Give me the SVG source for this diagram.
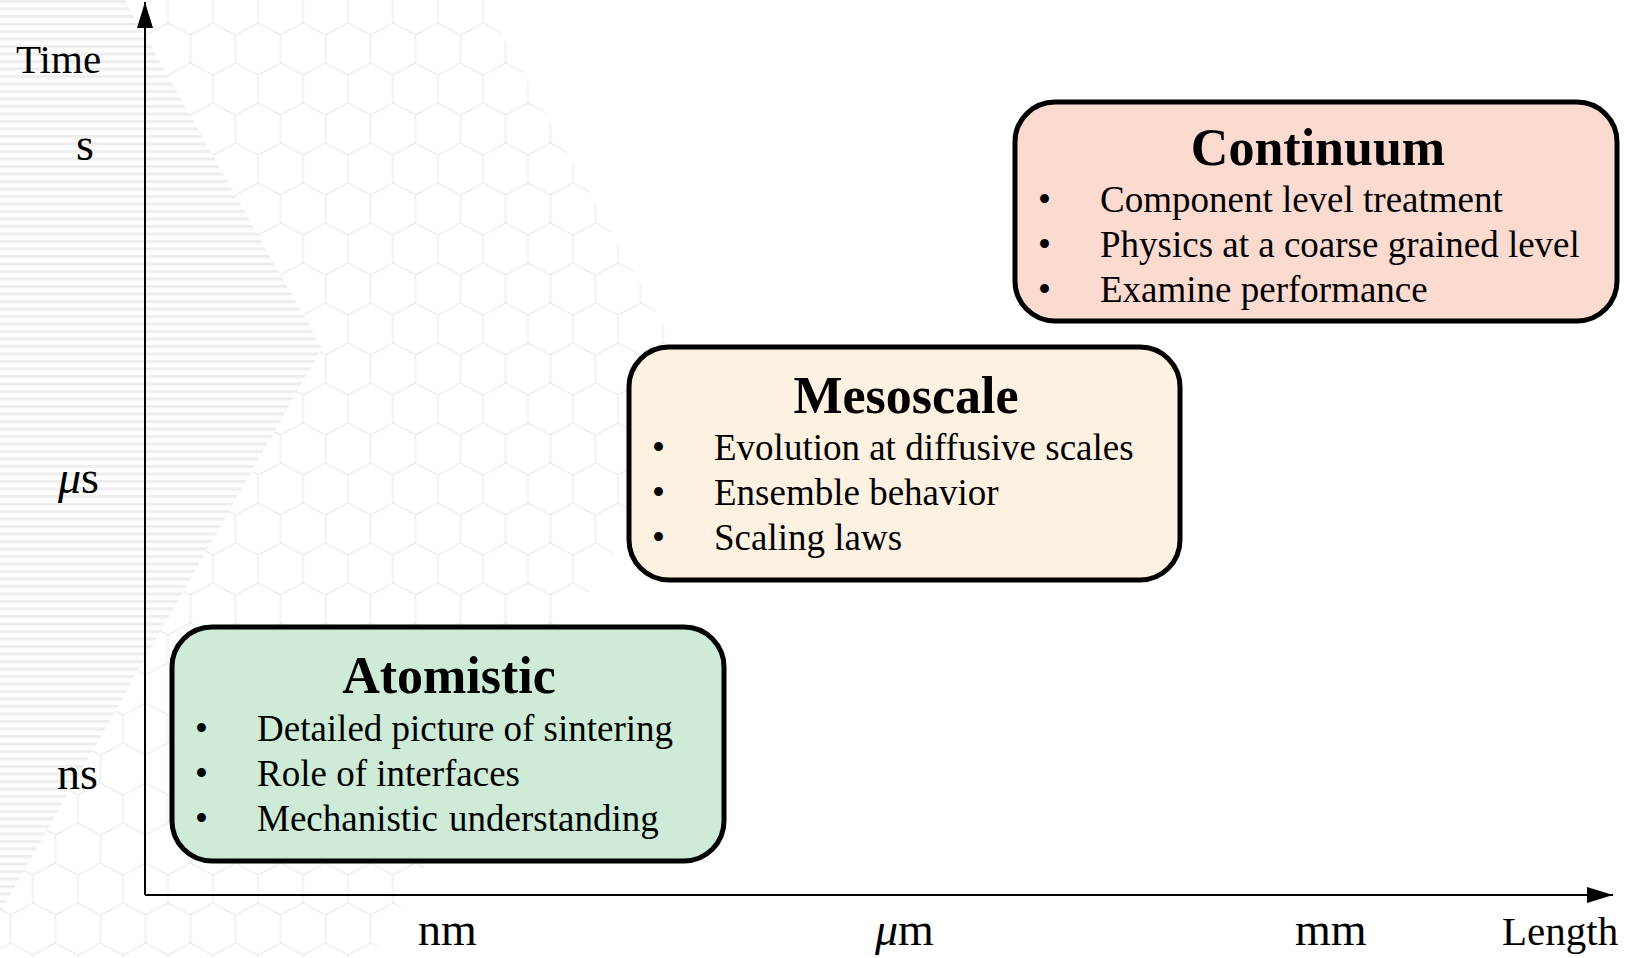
<svg xmlns="http://www.w3.org/2000/svg" width="1638" height="958" viewBox="0 0 1638 958">
  <style>
    .lbl { font-family: "Liberation Serif", "Times New Roman", serif; fill: #000; }
    .axl { font-size: 41px; }
    .unit { font-size: 46px; }
    .title { font-size: 52px; font-weight: bold; text-anchor: middle; }
    .item { font-size: 37px; }
    .box { stroke: #000; stroke-width: 5; }
    .axis { stroke: #000; stroke-width: 2; fill: none; }
  </style>
  <defs>
    <pattern id="hex" patternUnits="userSpaceOnUse" x="10.5" y="9" width="45" height="80">
      <path d="M22.5,0 V14 L0,26 M22.5,14 L45,26 M0,26 V54 M45,26 V54 M0,54 L22.5,66 L45,54 M22.5,66 V80" fill="none" stroke="#efefef" stroke-width="1.6"/>
    </pattern>
    <pattern id="stripes" patternUnits="userSpaceOnUse" x="0" y="0" width="8" height="7.5">
      <rect x="0" y="0" width="8" height="7.5" fill="#fdfdfd"/>
      <rect x="0" y="0" width="8" height="3" fill="#eeeeee"/>
    </pattern>
    <marker id="arrow" viewBox="0 0 26 16" refX="26" refY="8" markerWidth="26" markerHeight="16" markerUnits="userSpaceOnUse" orient="auto">
      <path d="M0,0 L26,8 L0,16 Z" fill="#000"/>
    </marker>
  </defs>

  <rect x="0" y="0" width="1638" height="958" fill="#fff"/>
  <g id="background">
    <polygon points="0,0 483,0 705,400 370,958 0,958" fill="url(#hex)"/>
    <polygon points="0,0 125,0 322,348 0,913" fill="#fff"/>
    <polygon points="0,0 125,0 322,348 0,913" fill="url(#stripes)"/>
  </g>

  <g id="connectors">
    <line class="axis" x1="145" y1="895" x2="145" y2="2" marker-end="url(#arrow)"/>
    <line class="axis" x1="145" y1="895" x2="1613" y2="895" marker-end="url(#arrow)"/>
  </g>

  <g id="axis-labels">
    <text class="lbl axl" x="16" y="73">Time</text>
    <text class="lbl unit" x="76" y="160">s</text>
    <text class="lbl unit" x="58" y="493"><tspan font-style="italic">μ</tspan>s</text>
    <text class="lbl unit" x="57" y="789">ns</text>
    <text class="lbl unit" x="418" y="945">nm</text>
    <text class="lbl unit" x="875" y="945"><tspan font-style="italic">μ</tspan>m</text>
    <text class="lbl unit" x="1295" y="945">mm</text>
    <text class="lbl axl" x="1502" y="945">Length</text>
  </g>

  <g id="atomistic">
    <rect class="box" x="172" y="627" width="552" height="234" rx="40" ry="40" fill="#cdebd6"/>
    <text class="lbl title" x="449" y="693">Atomistic</text>
    <text class="lbl item" x="195" y="741">•</text>
    <text class="lbl item" x="257" y="741">Detailed picture of sintering</text>
    <text class="lbl item" x="195" y="786">•</text>
    <text class="lbl item" x="257" y="786">Role of interfaces</text>
    <text class="lbl item" x="195" y="831">•</text>
    <text class="lbl item" x="257" y="831" word-spacing="2">Mechanistic understanding</text>
  </g>

  <g id="mesoscale">
    <rect class="box" x="629" y="347" width="551" height="233" rx="40" ry="40" fill="#fdf1e2"/>
    <text class="lbl title" x="906" y="413">Mesoscale</text>
    <text class="lbl item" x="652" y="460">•</text>
    <text class="lbl item" x="714" y="460">Evolution at diffusive scales</text>
    <text class="lbl item" x="652" y="505">•</text>
    <text class="lbl item" x="714" y="505">Ensemble behavior</text>
    <text class="lbl item" x="652" y="550">•</text>
    <text class="lbl item" x="714" y="550">Scaling laws</text>
  </g>

  <g id="continuum">
    <rect class="box" x="1015" y="102" width="602" height="219" rx="40" ry="40" fill="#fbdad0"/>
    <text class="lbl title" x="1318" y="165">Continuum</text>
    <text class="lbl item" x="1038" y="212">•</text>
    <text class="lbl item" x="1100" y="212">Component level treatment</text>
    <text class="lbl item" x="1038" y="257">•</text>
    <text class="lbl item" x="1100" y="257">Physics at a coarse grained level</text>
    <text class="lbl item" x="1038" y="302">•</text>
    <text class="lbl item" x="1100" y="302">Examine performance</text>
  </g>
</svg>
